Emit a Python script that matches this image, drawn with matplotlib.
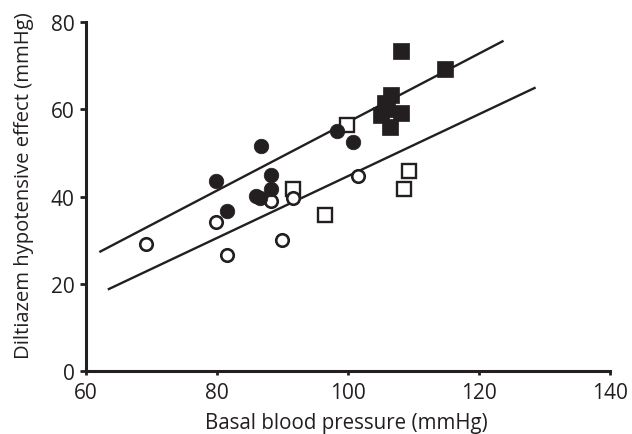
import matplotlib
matplotlib.use("Agg")
import matplotlib.pyplot as plt

# filled circles
fc_x = [79.9, 81.5, 86.7, 86.0, 86.5, 88.3, 88.3, 98.3, 100.7]
fc_y = [43.5, 36.6, 51.7, 40.2, 39.6, 45.0, 41.7, 55.0, 52.5]
# open circles
oc_x = [69.1, 79.9, 81.5, 88.3, 89.9, 91.6, 101.6]
oc_y = [29.2, 34.1, 26.6, 39.0, 30.1, 39.7, 44.8]
# open squares
os_x = [99.9, 91.6, 96.5, 108.5, 109.4]
os_y = [56.5, 41.7, 35.8, 41.7, 45.8]
# filled squares
fs_x = [108.1, 114.9, 106.6, 105.7, 105.1, 108.1, 106.5, 106.0]
fs_y = [73.4, 69.3, 63.4, 61.5, 58.8, 59.2, 55.9, 60.0]
upper_x = [62.2, 123.6]
upper_y = [27.4, 75.6]
lower_x = [63.5, 128.5]
lower_y = [18.8, 64.9]

ink = "#231f20"
plt.rcParams['font.family'] = ['Open Sans', 'DejaVu Sans']
plt.rcParams['font.weight'] = 'medium'

fig = plt.figure(figsize=(6.32, 4.35), dpi=100)
ax = fig.add_axes([0.136, 0.1448, 0.829, 0.802])

ax.plot(upper_x, upper_y, color=ink, lw=1.7)
ax.plot(lower_x, lower_y, color=ink, lw=1.7)

ax.plot(os_x, os_y, "s", ms=10.3, mfc="white", mec=ink, mew=1.7, ls="none")
ax.plot(oc_x, oc_y, "o", ms=9.0, mfc="white", mec=ink, mew=1.9, ls="none")
ax.plot(fc_x, fc_y, "o", ms=10.5, mfc=ink, mec=ink, mew=0.5, ls="none")
ax.plot(fs_x, fs_y, "s", ms=11.5, mfc=ink, mec=ink, mew=0.5, ls="none")

ax.set_xlim(60, 140)
ax.set_ylim(0, 80)
ax.set_xticks([60, 80, 100, 120, 140])
ax.set_yticks([0, 20, 40, 60, 80])
ax.spines["top"].set_visible(False)
ax.spines["right"].set_visible(False)
for s in ("left", "bottom"):
    ax.spines[s].set_linewidth(2.2)
    ax.spines[s].set_color(ink)
ax.tick_params(axis="x", direction="out", length=3, width=2, color=ink,
               labelsize=15, pad=5, labelcolor=ink)
ax.tick_params(axis="y", direction="out", length=4, width=2, color=ink,
               labelsize=15, pad=4, labelcolor=ink)
ax.set_xlabel("Basal blood pressure (mmHg)", fontsize=14.8, color=ink)
ax.set_ylabel("Diltiazem hypotensive effect (mmHg)", fontsize=14.6, color=ink)
ax.xaxis.set_label_coords(0.496, -0.118)
ax.yaxis.set_label_coords(-0.099, 0.533)

fig.savefig("out.png", dpi=100)
